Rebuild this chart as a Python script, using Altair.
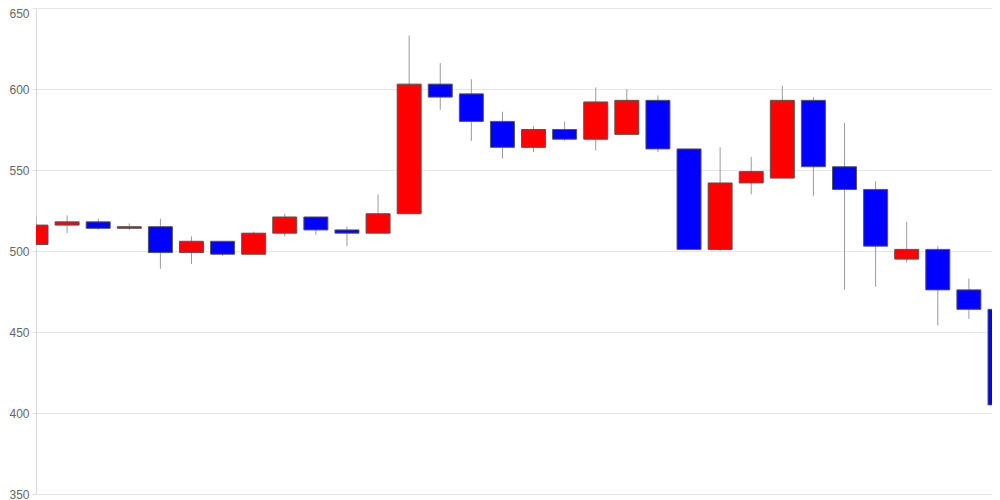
import altair as alt
import pandas as pd

opens  = [504, 516, 518, 514, 515, 499, 506, 498, 511, 521, 513, 511, 523, 603, 597, 580,
          564, 575, 569, 572, 593, 563, 501, 542, 545, 593, 552, 538, 495, 501, 476, 464]
highs  = [521, 522, 520, 517, 520, 509, 506, 512, 523, 521, 515, 535, 633, 616, 606, 586,
          577, 580, 601, 600, 596, 563, 564, 558, 602, 595, 579, 543, 518, 503, 483, 464]
lows   = [504, 511, 513, 513, 489, 492, 497, 498, 509, 510, 503, 511, 523, 587, 568, 557,
          561, 568, 562, 572, 561, 501, 500, 535, 545, 534, 476, 478, 493, 454, 458, 372]
closes = [516, 518, 514, 515, 499, 506, 498, 511, 521, 513, 511, 523, 603, 595, 580, 564,
          575, 569, 592, 593, 563, 501, 542, 549, 593, 552, 538, 503, 501, 476, 464, 405]
y_ticks = [350, 400, 450, 500, 550, 600, 650]

df = pd.DataFrame({
    "i": list(range(len(opens))),
    "open": opens,
    "high": highs,
    "low": lows,
    "close": closes,
})
df["dir"] = ["up" if c >= o else "down" for o, c in zip(opens, closes)]

# plot area is 956 px wide; the last candle sits just past the right edge
x_max = 956 / (964 / 31)
xscale = alt.Scale(domain=[0, x_max], nice=False, zero=False, padding=0)
yscale = alt.Scale(domain=[350, 650], nice=False, zero=False, padding=0)

base = alt.Chart(df).encode(x=alt.X("i:Q", scale=xscale, axis=None))

wick = base.mark_rule(color="#9a9a9a", strokeWidth=1, clip=True).encode(
    y=alt.Y("low:Q", scale=yscale, title=None,
            axis=alt.Axis(values=y_ticks, grid=True, tickSize=4, labelPadding=3,
                          labelBaseline={"expr": "datum.value == 650 ? 'top' : 'middle'"})),
    y2="high:Q",
)

body = base.mark_bar(size=24, stroke="#555555", strokeWidth=1, clip=True).encode(
    y=alt.Y("open:Q", scale=yscale),
    y2="close:Q",
    color=alt.Color("dir:N", scale=alt.Scale(domain=["up", "down"], range=["#ff0000", "#0000ff"]),
                    legend=None),
)

chart = (wick + body).properties(
    width=956,
    height=486,
    autosize=alt.AutoSizeParams(type="none"),
    padding={"left": 28, "top": 0, "right": 0, "bottom": 10},
).configure_view(stroke=None).configure_axis(
    domainColor="#d9d9d9",
    gridColor="#e6e6e6",
    tickColor="#e0e0e0",
    labelColor="#666666",
    labelFont="Liberation Sans",
    labelFontSize=12,
)

chart.save("out.html", embed_options={"renderer": "svg", "actions": False})
